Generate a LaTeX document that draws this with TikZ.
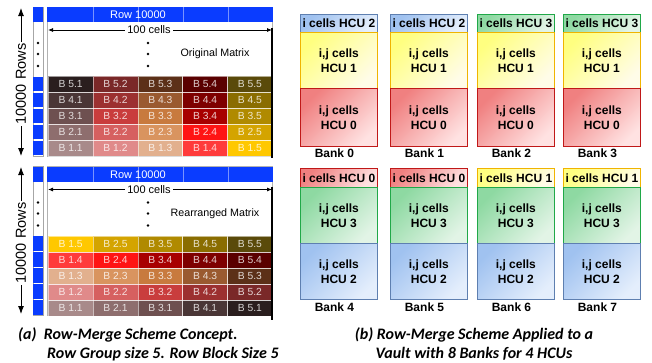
\documentclass[tikz,border=0pt]{standalone}
\usepackage{fontspec}
\setmainfont{Liberation Sans}
\newfontfamily\capfont{Carlito}
\usetikzlibrary{arrows.meta}

% row colour of the blue header bars
\definecolor{rowblue}{HTML}{0A3CFF}
% block colours: blk<row><column> for block "B row.column"
\definecolor{blk11}{HTML}{A88A8A}\definecolor{blk21}{HTML}{8E6E6E}\definecolor{blk31}{HTML}{6E5050}
\definecolor{blk41}{HTML}{4A3636}\definecolor{blk51}{HTML}{2A1E1E}
\definecolor{blk12}{HTML}{E08A8A}\definecolor{blk22}{HTML}{D66060}\definecolor{blk32}{HTML}{C93D3D}
\definecolor{blk42}{HTML}{9C3030}\definecolor{blk52}{HTML}{7A2828}
\definecolor{blk13}{HTML}{E2B08E}\definecolor{blk23}{HTML}{D9945F}\definecolor{blk33}{HTML}{C87A3E}
\definecolor{blk43}{HTML}{9A5A30}\definecolor{blk53}{HTML}{5C3018}
\definecolor{blk14}{HTML}{FF3B3B}\definecolor{blk24}{HTML}{FF1414}\definecolor{blk34}{HTML}{A80000}
\definecolor{blk44}{HTML}{7E0000}\definecolor{blk54}{HTML}{5A0000}
\definecolor{blk15}{HTML}{FFC800}\definecolor{blk25}{HTML}{D4A400}\definecolor{blk35}{HTML}{B08A00}
\definecolor{blk45}{HTML}{8A6D00}\definecolor{blk55}{HTML}{5A4A0A}
% HCU colours: h<n>d dark corner, h<n>l light corner, h<n>b border
\definecolor{h0d}{HTML}{F08080}\definecolor{h0l}{HTML}{FFE2E2}\definecolor{h0b}{HTML}{C01818}
\definecolor{h1d}{HTML}{FFFF80}\definecolor{h1l}{HTML}{FFFCE8}\definecolor{h1b}{HTML}{F0B400}
\definecolor{h2d}{HTML}{A0C2F0}\definecolor{h2l}{HTML}{E4EEFC}\definecolor{h2b}{HTML}{5E7FB0}
\definecolor{h3d}{HTML}{8ED9A2}\definecolor{h3l}{HTML}{E2F4E6}\definecolor{h3b}{HTML}{20A848}

\tikzset{
  cellbox/.style={draw=white, draw opacity=0.55, line width=0.6pt,
    minimum width=44.8pt, minimum height=16pt, inner sep=0pt, anchor=north west,
    text=white, text opacity=0.8, font=\fontsize{10.3}{12}\selectfont},
  rowtitle/.style={text=white, inner sep=0pt, font=\fontsize{11}{13}\selectfont},
  plainlabel/.style={inner sep=0pt, font=\fontsize{10.7}{13}\selectfont},
  dimarrow/.style={line width=0.8pt, {Latex[length=5pt,width=4pt]}-{Latex[length=5pt,width=4pt]}},
  rowsarrow/.style={line width=0.9pt, {Latex[length=8pt,width=6pt]}-{Latex[length=8pt,width=6pt]}},
  rowslabel/.style={fill=white, rotate=90, inner xsep=2pt, inner ysep=0pt,
    font=\fontsize{14.5}{16}\selectfont},
  bankpart/.style={line width=0.8pt, minimum width=77pt, inner sep=0pt, anchor=north west,
    align=center, font=\fontsize{12}{15}\selectfont\bfseries},
  hcu/.style={top color=h#1d, bottom color=h#1l, shading angle=45, draw=h#1b},
  banklabel/.style={inner sep=0pt, font=\fontsize{12}{14}\selectfont\bfseries},
  capt/.style={inner sep=0pt, font=\capfont\bfseries\itshape\fontsize{16}{18}\selectfont},
  dot/.style={fill=black}
}

% one matrix panel: #1 vertical offset, #2 name prefix, #3 title, #4 0 = original / 1 = rearranged
\newcommand\matrixpanel[4]{%
  \begin{scope}[shift={(0,#1)}]
    % row strip on the left
    \draw[draw=gray!70, line width=0.8pt, fill=white] (33,7) rectangle (43,156);
    \fill[rowblue] (33.4,7.4) rectangle (42.6,22);
    \foreach \k in {0,...,4} \fill[rowblue] (33.4,{76.6+16*\k}) rectangle (42.6,{91.4+16*\k});
    \foreach \yy in {43,54,66} \fill[dot] (38,\yy) circle (1.4pt);
    % matrix frame and top row
    \draw[gray!60, line width=0.6pt] (47,7) rectangle (272,156);
    \fill[rowblue] (47,7) rectangle (272.5,22);
    \foreach \xx in {93,138,183,228} \draw[white, opacity=0.45, line width=0.5pt] (\xx,7) -- (\xx,22);
    \node[rowtitle] (#2title) at (138,15) {Row 10000};
    % width dimension
    \coordinate (#2wl) at (48,30);
    \coordinate (#2wr) at (272,30);
    \draw[dimarrow] (#2wl) -- (#2wr);
    \node[plainlabel, fill=white, inner xsep=2pt, font=\fontsize{11}{13}\selectfont] (#2cells) at (149,30) {100 cells};
    \foreach \yy in {43,54,66} \fill[dot] (148,\yy) circle (1.4pt);
    \node[plainlabel] (#2name) at (215,54) {#3};
    % blocks
    \foreach \r in {1,...,5} \foreach \c in {1,...,5} {
      \pgfmathsetmacro\yy{76+16*(5-\r)}
      \pgfmathsetmacro\xx{48+44.8*(\c-1)}
      \ifnum#4=0
        \node[cellbox, fill=blk\r\c] (#2b\r\c) at (\xx,\yy) {B \r.\c};
      \else
        \node[cellbox, fill=blk\c\r] (#2b\r\c) at (\xx,\yy) {B \c.\r};
      \fi
    }
  \end{scope}}

\begin{document}
\begin{tikzpicture}[x=1pt,y=-1pt]
\useasboundingbox (0,0) rectangle (652,362);

% ---------------- left half: the two matrices ----------------
\matrixpanel{0}{o}{Original Matrix}{0}
\matrixpanel{159.5}{r}{Rearranged Matrix}{1}
\draw[line width=1.1pt] (272,28) -- (272,158);
\draw[line width=1.4pt] (272,187) -- (272,320);

% row count arrows
\coordinate (ra1) at (21,8);
\coordinate (rb1) at (21,156);
\draw[rowsarrow] (ra1) -- (rb1);
\node[rowslabel] (rows1) at (21,84) {10000 Rows};
\coordinate (ra2) at (21,167);
\coordinate (rb2) at (21,314);
\draw[rowsarrow] (ra2) -- (rb2);
\node[rowslabel] (rows2) at (21,243) {10000 Rows};

% ---------------- right half: banks ----------------
\foreach \i/\x/\hn in {0/300/2, 1/390/2, 2/477/3, 3/563/3} {
  \node[bankpart, hcu=\hn, minimum height=18pt] (h\i) at (\x,14) {i cells HCU \hn};
  \node[bankpart, hcu=1, minimum height=56pt] (m\i) at (\x,32) {i,j cells\\HCU 1};
  \node[bankpart, hcu=0, minimum height=58pt] (l\i) at (\x,88) {i,j cells\\HCU 0};
  \node[banklabel] (bank\i) at (\x+34.5,153) {Bank \i};
}
\foreach \i/\x/\hn in {4/300/0, 5/390/0, 6/477/1, 7/563/1} {
  \node[bankpart, hcu=\hn, minimum height=19pt] (h\i) at (\x,168) {i cells HCU \hn};
  \node[bankpart, hcu=3, minimum height=56pt] (m\i) at (\x,187) {i,j cells\\HCU 3};
  \node[bankpart, hcu=2, minimum height=56pt] (l\i) at (\x,243) {i,j cells\\HCU 2};
  \node[banklabel] (bank\i) at (\x+34.5,307) {Bank \i};
}

% ---------------- captions ----------------
\node[capt, anchor=base west] (capa1) at (18,339.5) {(a)\ \ Row-Merge Scheme Concept.};
\node[capt, anchor=base west] (capa2) at (47,358.5) {Row Group size 5. Row Block Size 5};
\node[capt, anchor=base] (capb1) at (474,339.5) {(b) Row-Merge Scheme Applied to a};
\node[capt, anchor=base] (capb2) at (474,358.5) {Vault with 8 Banks for 4 HCUs};
\end{tikzpicture}
\end{document}
